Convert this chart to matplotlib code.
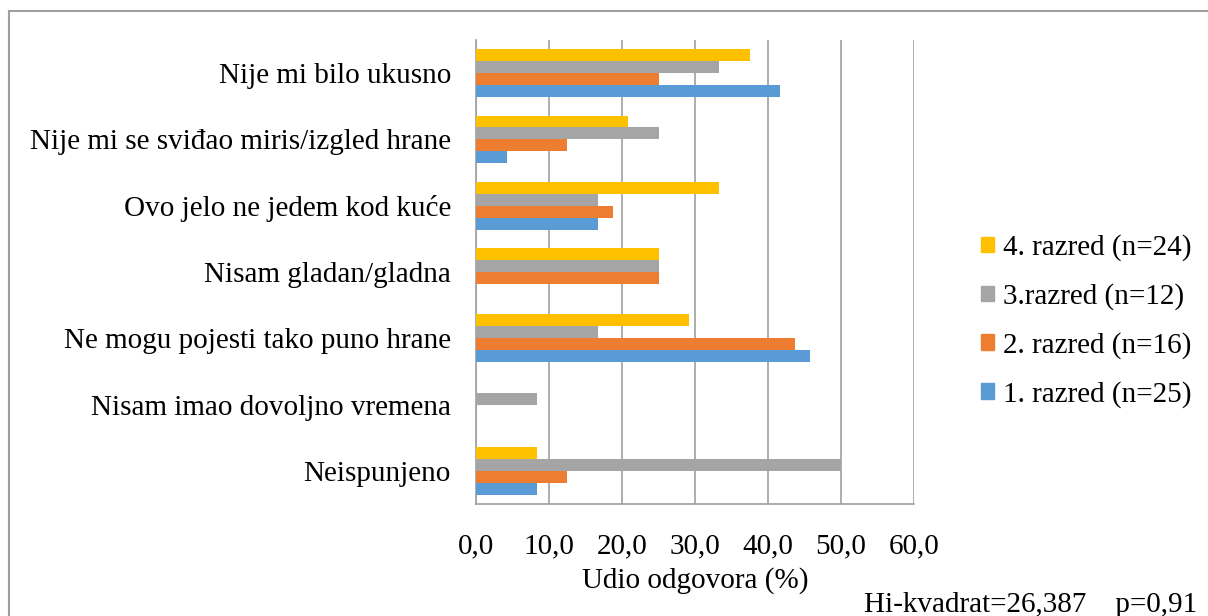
import matplotlib.pyplot as plt
from matplotlib.patches import Patch, Rectangle
import numpy as np

plt.rcParams['font.family'] = ['Liberation Serif', 'DejaVu Serif']

categories = ['Nije mi bilo ukusno', 'Nije mi se sviđao miris/izgled hrane',
              'Ovo jelo ne jedem kod kuće', 'Nisam gladan/gladna',
              'Ne mogu pojesti tako puno hrane', 'Nisam imao dovoljno vremena',
              'Neispunjeno']
razred1 = [41.7, 4.2, 16.7, 0, 45.8, 0, 8.3]
razred2 = [25.0, 12.5, 18.75, 25.0, 43.75, 0, 12.5]
razred3 = [33.3, 25.0, 16.7, 25.0, 16.7, 8.3, 50.0]
razred4 = [37.5, 20.8, 33.3, 25.0, 29.2, 0, 8.3]
series_names = ['1. razred (n=25)', '2. razred (n=16)', '3.razred (n=12)', '4. razred (n=24)']
colors = ['#5B9BD5', '#ED7D31', '#A5A5A5', '#FFC000']
xticks = [0, 10, 20, 30, 40, 50, 60]

fs = 21
fig = plt.figure(figsize=(12.08, 6.16), dpi=100)
ax = fig.add_axes([476/1208, 1-504/616, (914-476)/1208, (504-40)/616])

n = len(categories)
y = np.arange(n)[::-1]
h = 0.18
all_series = [razred1, razred2, razred3, razred4]
for k, vals in enumerate(all_series):
    ax.barh(y + (k - 1.5) * h, vals, height=h, color=colors[k], zorder=3)

ax.set_xlim(0, 60)
ax.set_ylim(-0.5, n - 0.5)
ax.set_xticks(xticks)
ax.set_xticklabels([f'{v:.1f}'.replace('.', ',') for v in xticks], fontsize=fs)
ax.set_yticks(y)
ax.set_yticklabels(categories, fontsize=fs)
ax.tick_params(axis='x', length=0, pad=21)
ax.tick_params(axis='y', length=0, pad=18)
ax.grid(axis='x', color='#A0A0A0', linewidth=1.2, zorder=0)
for s in ['top', 'right']:
    ax.spines[s].set_visible(False)
for s in ['left', 'bottom']:
    ax.spines[s].set_color('#A0A0A0')
    ax.spines[s].set_linewidth(1.2)
ax.set_xlabel('Udio odgovora (%)', fontsize=fs, labelpad=6)

handles = [Patch(color=colors[k], label=series_names[k]) for k in range(3, -1, -1)]
fig.legend(handles=handles, loc='center left', bbox_to_anchor=(969/1208, 1-321/616),
           frameon=False, fontsize=fs, handlelength=0.45, handleheight=0.45,
           handletextpad=0.3, labelspacing=0.75, borderaxespad=0)

fig.text(1197/1208, 1-605/616, 'Hi-kvadrat=26,387    p=0,91', fontsize=fs,
         ha='right', va='center')

fig.patches.append(Rectangle((9/1208, -0.1), 1.2, 1-11/616+0.1, transform=fig.transFigure,
                             fill=False, edgecolor='#A0A0A0', linewidth=1.5))

fig.savefig('out.png', dpi=100)
